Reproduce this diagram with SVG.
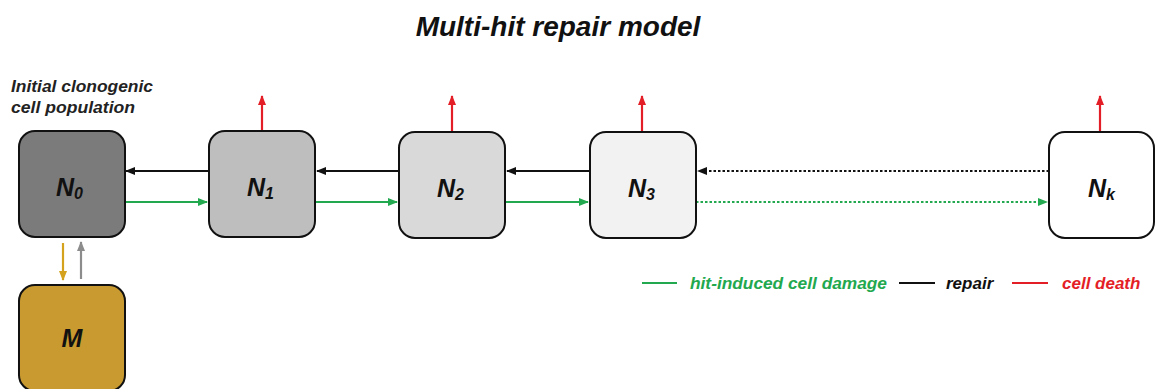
<svg xmlns="http://www.w3.org/2000/svg" width="1155" height="389" viewBox="0 0 1155 389">
<defs>
<style>
.t{font-family:"Liberation Sans",Arial,sans-serif;font-weight:bold;font-style:italic}
.box{stroke:#111;stroke-width:2}
.lbl{font-size:25px;fill:#111}
.sub{font-size:16px}
.ln{fill:none;stroke-width:2.2}
.dot{stroke-dasharray:2.5 2}
</style>
<marker id="aK" viewBox="0 0 10 8" refX="9" refY="4" markerWidth="10" markerHeight="8" markerUnits="userSpaceOnUse" orient="auto"><path d="M0,0 L10,4 L0,8 z" fill="#111"/></marker>
<marker id="aG" viewBox="0 0 10 8" refX="9" refY="4" markerWidth="10" markerHeight="8" markerUnits="userSpaceOnUse" orient="auto"><path d="M0,0 L10,4 L0,8 z" fill="#22a84e"/></marker>
<marker id="aR" viewBox="0 0 10 8" refX="9" refY="4" markerWidth="10" markerHeight="8" markerUnits="userSpaceOnUse" orient="auto"><path d="M0,0 L10,4 L0,8 z" fill="#e41e26"/></marker>
<marker id="aY" viewBox="0 0 10 8" refX="9" refY="4" markerWidth="10" markerHeight="8" markerUnits="userSpaceOnUse" orient="auto"><path d="M0,0 L10,4 L0,8 z" fill="#d4a21c"/></marker>
<marker id="aS" viewBox="0 0 10 8" refX="9" refY="4" markerWidth="10" markerHeight="8" markerUnits="userSpaceOnUse" orient="auto"><path d="M0,0 L10,4 L0,8 z" fill="#8c8c8c"/></marker>
</defs>
<rect width="1155" height="389" fill="#fff"/>
<text class="t" x="558" y="36" font-size="28" text-anchor="middle" fill="#111">Multi-hit repair model</text>
<text class="t" font-size="16" fill="#222"><tspan x="11" y="92" textLength="142" lengthAdjust="spacingAndGlyphs">Initial clonogenic</tspan><tspan x="11" y="113" textLength="124" lengthAdjust="spacingAndGlyphs">cell population</tspan></text>
<g id="connectors">
<line class="ln" x1="209" y1="171" x2="126" y2="171" stroke="#111" marker-end="url(#aK)"/>
<line class="ln" x1="125" y1="202" x2="207" y2="202" stroke="#22a84e" marker-end="url(#aG)"/>
<line class="ln" x1="399" y1="171" x2="317" y2="171" stroke="#111" marker-end="url(#aK)"/>
<line class="ln" x1="315" y1="202" x2="397" y2="202" stroke="#22a84e" marker-end="url(#aG)"/>
<line class="ln" x1="590" y1="171" x2="507" y2="171" stroke="#111" marker-end="url(#aK)"/>
<line class="ln" x1="505" y1="202" x2="588" y2="202" stroke="#22a84e" marker-end="url(#aG)"/>
<line class="ln dot" x1="1049" y1="171" x2="698" y2="171" stroke="#111" marker-end="url(#aK)"/>
<line class="ln dot" x1="696" y1="202" x2="1047" y2="202" stroke="#22a84e" marker-end="url(#aG)"/>
<line class="ln" x1="262" y1="131" x2="262" y2="96" stroke="#e41e26" marker-end="url(#aR)"/>
<line class="ln" x1="452" y1="132" x2="452" y2="96" stroke="#e41e26" marker-end="url(#aR)"/>
<line class="ln" x1="642" y1="132" x2="642" y2="96" stroke="#e41e26" marker-end="url(#aR)"/>
<line class="ln" x1="1100" y1="132" x2="1100" y2="96" stroke="#e41e26" marker-end="url(#aR)"/>
<line class="ln" x1="63" y1="243" x2="63" y2="280" stroke="#d4a21c" marker-end="url(#aY)"/>
<line class="ln" x1="81" y1="279" x2="81" y2="242" stroke="#8c8c8c" marker-end="url(#aS)"/>
</g>
<g id="N0"><rect class="box" x="19" y="131" width="106" height="106" rx="16" fill="#7b7b7b"/><text class="t lbl" x="56" y="196">N<tspan class="sub" dy="3">0</tspan></text></g>
<g id="N1"><rect class="box" x="209" y="131" width="106" height="106" rx="16" fill="#bebebe"/><text class="t lbl" x="247" y="196">N<tspan class="sub" dy="3">1</tspan></text></g>
<g id="N2"><rect class="box" x="399" y="132" width="106" height="106" rx="16" fill="#d9d9d9"/><text class="t lbl" x="437" y="197">N<tspan class="sub" dy="3">2</tspan></text></g>
<g id="N3"><rect class="box" x="590" y="132" width="106" height="106" rx="16" fill="#f2f2f2"/><text class="t lbl" x="628" y="197">N<tspan class="sub" dy="3">3</tspan></text></g>
<g id="Nk"><rect class="box" x="1049" y="132" width="105" height="106" rx="16" fill="#fff"/><text class="t lbl" x="1088" y="197">N<tspan class="sub" dy="3">k</tspan></text></g>
<g id="M"><rect class="box" x="19" y="285" width="106" height="106" rx="16" fill="#c99a2f"/><text class="t lbl" x="72" y="347" text-anchor="middle">M</text></g>
<g id="legend">
<line x1="642" y1="283" x2="677" y2="283" stroke="#22a84e" stroke-width="2.2"/>
<text class="t" x="690" y="289" font-size="17" fill="#22a84e" textLength="197" lengthAdjust="spacingAndGlyphs">hit-induced cell damage</text>
<line x1="899" y1="283" x2="935" y2="283" stroke="#111" stroke-width="2.2"/>
<text class="t" x="946" y="289" font-size="17" fill="#111">repair</text>
<line x1="1012" y1="283" x2="1048" y2="283" stroke="#e41e26" stroke-width="2.2"/>
<text class="t" x="1062" y="289" font-size="17" fill="#e41e26">cell death</text>
</g>
</svg>
